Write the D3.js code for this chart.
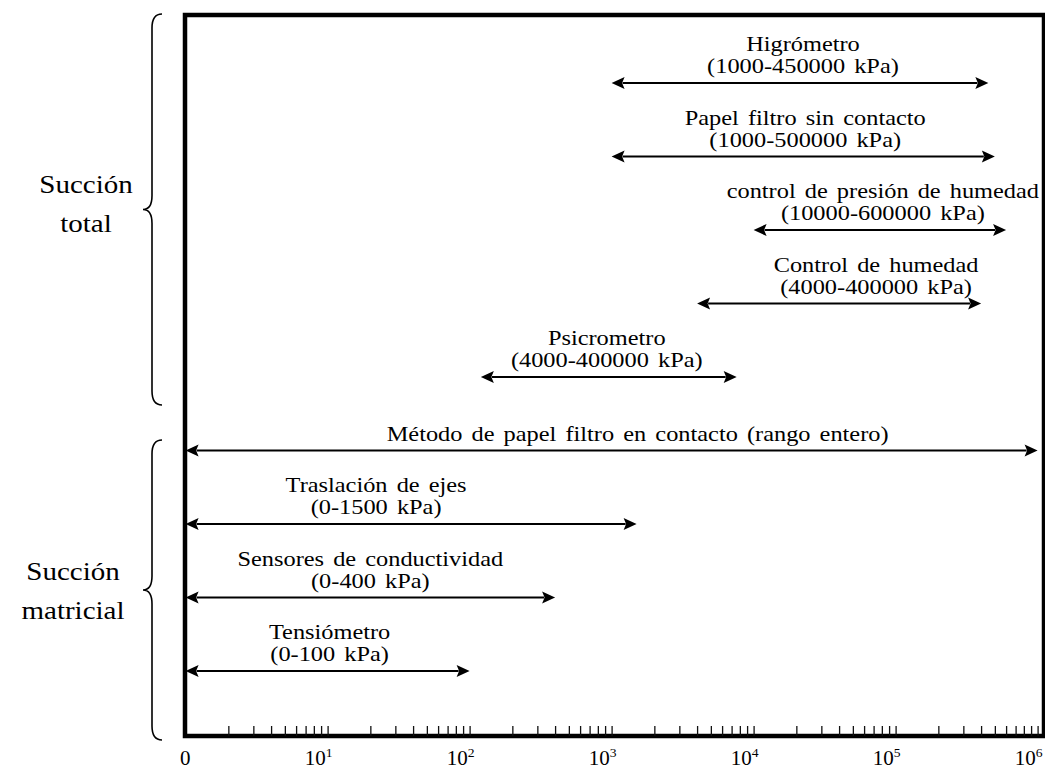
<!DOCTYPE html>
<html>
<head>
<meta charset="utf-8">
<script src="https://cdn.jsdelivr.net/npm/d3@7"></script>
<style>
  html, body { margin: 0; padding: 0; background: #fff; }
  svg { display: block; }
</style>
</head>
<body>
<svg id="chart" width="1045" height="772" font-family="'Liberation Serif', 'Times New Roman', Times, 'DejaVu Serif', serif"></svg>
<script>
// Suction measurement methods and their working ranges (kPa)
const methods = [
  "Higrómetro",
  "Papel filtro sin contacto",
  "control de presión de humedad",
  "Control de humedad",
  "Psicrometro",
  "Método de papel filtro en contacto (rango entero)",
  "Traslación de ejes",
  "Sensores de conductividad",
  "Tensiómetro"
];
const rangeText = [
  "(1000-450000 kPa)",
  "(1000-500000 kPa)",
  "(10000-600000 kPa)",
  "(4000-400000 kPa)",
  "(4000-400000 kPa)",
  "",
  "(0-1500 kPa)",
  "(0-400 kPa)",
  "(0-100 kPa)"
];
const lowerKPa = [1000, 1000, 10000, 4000, 120, 0, 0, 0, 0];
const upperKPa = [450000, 500000, 600000, 400000, 7600, 1000000, 1500, 400, 100];

// Grouping of methods by suction type
const groupNames = [["Succión", "total"], ["Succión", "matricial"]];

// Axis decades (exponents); 10^0 is shown as "0"
const tickExponents = [0, 1, 2, 3, 4, 5, 6];

// Label horizontal shift from the arrow midpoint (px)
const labelShift = [3, 2, 3, 37, -2, 26, -35, 0, 2];

const svg = d3.select("#chart");
const box = { left: 185, right: 1044, top: 15, bottom: 736 };

const x = d3.scaleLog().domain([1, 1e6]).range([185.6, 1037.6]);
const y = d3.scalePoint().domain(d3.range(methods.length)).range([83, 671]);
const xv = v => x(Math.max(v, 1));

const SX = 1.16; // horizontal stretch for the serif face

function label(g, str, cx, cy, size, anchor, sx) {
  return g.append("text")
    .attr("transform", `translate(${cx},${cy}) scale(${sx || SX},1)`)
    .attr("text-anchor", anchor || "middle")
    .attr("font-size", size)
    .attr("word-spacing", 2.6)
    .attr("fill", "#000")
    .text(str);
}

// Frame
svg.append("rect")
  .attr("x", box.left).attr("y", box.top)
  .attr("width", box.right - box.left).attr("height", box.bottom - box.top)
  .attr("fill", "none").attr("stroke", "#000").attr("stroke-width", 4.5);

// Minor/major log ticks along the bottom edge, pointing inward
const tickVals = [];
for (let d = 0; d < 6; d++) for (let k = 2; k <= 10; k++) tickVals.push(k * Math.pow(10, d));
const axisG = svg.append("g").attr("transform", `translate(0,${box.bottom})`);
axisG.call(d3.axisBottom(x).tickValues(tickVals).tickSize(-10).tickFormat(""));
axisG.select(".domain").remove();
axisG.selectAll(".tick line").attr("stroke", "#111").attr("stroke-width", 1.3);

// Decade labels
const tl = svg.append("g");
tickExponents.forEach(e => {
  const t = tl.append("text")
    .attr("transform", `translate(${x(Math.pow(10, e)) + 5},765) scale(1.05,1)`)
    .attr("text-anchor", "end")
    .attr("font-size", 20)
    .attr("fill", "#000");
  if (e === 0) {
    t.text("0");
  } else {
    t.append("tspan").text("10");
    t.append("tspan").attr("font-size", 13).attr("dy", -8).text(String(e));
  }
});

// Double-headed range arrows
const head = 13, half = 6;
const arrows = svg.append("g");
const labels = svg.append("g");
methods.forEach((m, i) => {
  const x0 = xv(lowerKPa[i]), x1 = xv(upperKPa[i]), yy = y(i);
  arrows.append("line")
    .attr("x1", x0 + head - 2).attr("x2", x1 - head + 2)
    .attr("y1", yy).attr("y2", yy)
    .attr("stroke", "#000").attr("stroke-width", 1.8);
  arrows.append("path")
    .attr("d", `M${x0},${yy} L${x0 + head},${yy - half} L${x0 + head - 2.5},${yy} L${x0 + head},${yy + half} Z`)
    .attr("fill", "#000");
  arrows.append("path")
    .attr("d", `M${x1},${yy} L${x1 - head},${yy - half} L${x1 - head + 2.5},${yy} L${x1 - head},${yy + half} Z`)
    .attr("fill", "#000");

  const cx = (x0 + x1) / 2 + labelShift[i];
  if (rangeText[i]) {
    label(labels, m, cx, yy - 32, 21);
    label(labels, rangeText[i], cx, yy - 10, 21);
  } else {
    label(labels, m, cx, yy - 10, 21);
  }
});

// Curly braces grouping the methods, with group titles
function bracePath(xEnd, xShaft, xTip, top, bottom) {
  const mid = (top + bottom) / 2, r = 14;
  return `M${xEnd},${top} Q${xShaft},${top} ${xShaft},${top + r}` +
         ` L${xShaft},${mid - r} Q${xShaft},${mid} ${xTip},${mid}` +
         ` Q${xShaft},${mid} ${xShaft},${mid + r}` +
         ` L${xShaft},${bottom - r} Q${xShaft},${bottom} ${xEnd},${bottom}`;
}
const braceTops = [14, 440];
const braceBottoms = [405, 740];
const groupTitleX = [86, 73];
const groupTitleY = [193, 580];
groupNames.forEach((names, g) => {
  svg.append("path")
    .attr("d", bracePath(162, 152, 143, braceTops[g], braceBottoms[g]))
    .attr("fill", "none").attr("stroke", "#000").attr("stroke-width", 1.6);
  names.forEach((n, k) => label(svg, n, groupTitleX[g], groupTitleY[g] + k * 39, 25));
});
</script>
</body>
</html>
